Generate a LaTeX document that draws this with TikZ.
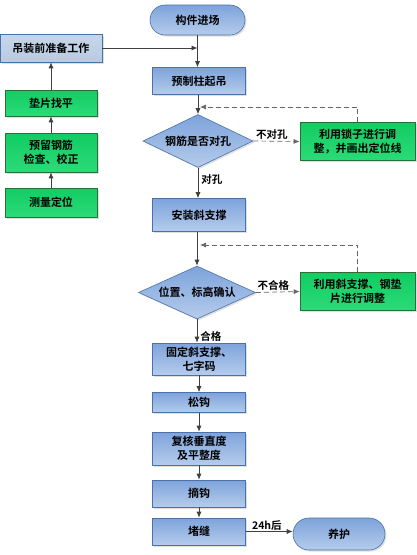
\documentclass[tikz,border=0pt]{standalone}
\usepackage{fontspec}
\newfontfamily\cjk{Noto Sans CJK SC Bold}
\usetikzlibrary{shapes.geometric,arrows.meta,shadows}
\definecolor{bluetop}{HTML}{7EA3DB}
\definecolor{bluebot}{HTML}{B5CCEC}
\definecolor{blueline}{HTML}{4A72A8}
\definecolor{greyblue}{HTML}{B8CBE4}
\definecolor{greentop}{HTML}{12CC62}
\definecolor{greenbot}{HTML}{2BDB78}
\definecolor{greenline}{HTML}{2A6E3A}
\definecolor{linec}{HTML}{404040}
\tikzset{
  x=1pt,y=-1pt,
  every node/.style={font=\cjk\fontsize{11}{14}\selectfont, text=black, align=center, inner sep=1pt},
  shade0/.style={drop shadow={opacity=0.25, shadow xshift=1.5pt, shadow yshift=-1.5pt}},
  bluebox/.style={shade0, draw=blueline, line width=0.6pt, top color=bluetop, bottom color=bluebot, minimum width=93pt, minimum height=#1},
  bluebox/.default=27pt,
  greenbox/.style={shade0, draw=greenline, line width=0.6pt, top color=greentop, bottom color=greenbot, minimum width=92pt, minimum height=#1},
  greenbox/.default=27pt,
  gbox/.style={shade0, draw=greenline, line width=0.6pt, top color=greentop, bottom color=greenbot, minimum width=115pt, minimum height=38pt},
  decision/.style={shade0, diamond, aspect=2.1, draw=blueline, line width=0.6pt, top color=bluetop, bottom color=bluebot, inner sep=0pt, minimum width=#1, minimum height=53pt},
  terminal/.style={shade0, draw=blueline, line width=0.6pt, top color=bluetop, bottom color=bluebot, rounded corners=15pt, minimum width=95pt, minimum height=30pt},
  arr/.style={draw=linec, line width=0.7pt, -{Latex[length=6pt,width=5pt]}},
  darr/.style={draw=linec!80, line width=0.7pt, dashed, dash pattern=on 5pt off 3pt, -{Latex[length=6pt,width=5pt]}},
  lbl/.style={font=\cjk\fontsize{10.5}{12}\selectfont}
}
\begin{document}
\begin{tikzpicture}
\useasboundingbox (0,0) rectangle (417,555);
\fill[white] (0,0) rectangle (417,555);
% main column
\node[terminal] (start) at (197.5,20) {构件进场};
\node[shade0, draw=blueline, line width=0.6pt, top color=greyblue!80!white, bottom color=greyblue, minimum width=102pt, minimum height=28pt] (prep) at (51,48) {吊装前准备工作};
\node[bluebox] (lift) at (199,81) {预制柱起吊};
\node[decision=110pt] (d1) at (198,141) {钢筋是否对孔};
\node[gbox] (g1) at (357.5,141.5) {利用锁子进行调\\整，并画出定位线};
\node[bluebox=33pt] (brace) at (199,215) {安装斜支撑};
\node[decision=117pt] (d2) at (197,292.5) {位置、标高确认};
\node[gbox] (g2) at (357.5,291.5) {利用斜支撑、钢垫\\片进行调整};
\node[bluebox=32pt] (fix) at (199,359) {固定斜支撑、\\七字码};
\node[bluebox=20pt] (loose) at (199,402.5) {松钩};
\node[bluebox=33pt] (check) at (199,448.5) {复核垂直度\\及平整度};
\node[bluebox=27pt] (unhook) at (199,493.5) {摘钩};
\node[bluebox=27pt] (seal) at (199,531.5) {堵缝};
\node[terminal, minimum width=92pt, minimum height=32pt, rounded corners=16pt] (cure) at (339,534) {养护};
% left column
\node[greenbox=26pt] (pad) at (51,103) {垫片找平};
\node[greenbox=39pt] (rebar) at (51,152.5) {预留钢筋\\检查、校正};
\node[greenbox=29pt] (measure) at (51,202.5) {测量定位};
% left connectors
\draw[arr] (measure) -- (rebar);
\draw[arr] (rebar) -- (pad);
\draw[arr] (pad) -- (prep);
\coordinate (j1) at (197.5,48);
\draw[arr] (prep) -- (j1);
% main connectors
\draw[arr] (start.south) -- (start.south |- lift.north);
\draw[arr] (lift.south -| d1.north) -- (d1.north);
\draw[darr] (d1.east) -- node[lbl, above, pos=0.4] {不对孔} (g1.west);
\coordinate (fb1) at (g1.north |- 0,107);
\coordinate (fb1e) at (200,107);
\draw[darr] (g1.north) -- (fb1) -- (fb1e);
\draw[arr] (d1.south) -- node[lbl, right, pos=0.4, xshift=2pt] {对孔} (d1.south |- brace.north);
\draw[arr] (brace.south -| d2.north) -- (d2.north);
\coordinate (fb2) at (g2.north |- 0,245);
\coordinate (fb2e) at (200,245);
\draw[darr] (d2.east) -- node[lbl, above, pos=0.4] {不合格} (g2.west);
\draw[darr] (g2.north) -- (fb2) -- (fb2e);
\draw[arr] (d2.south) -- node[lbl, right, pos=0.75, xshift=2pt] {合格} (d2.south |- fix.north);
\draw[arr] (fix) -- (loose);
\draw[arr] (loose) -- (check);
\draw[arr] (check) -- (unhook);
\draw[arr] (unhook) -- (seal);
\draw[arr] (seal.east) -- node[lbl, above, pos=0.45] {24h后} (cure.west |- seal.east);
\end{tikzpicture}
\end{document}
